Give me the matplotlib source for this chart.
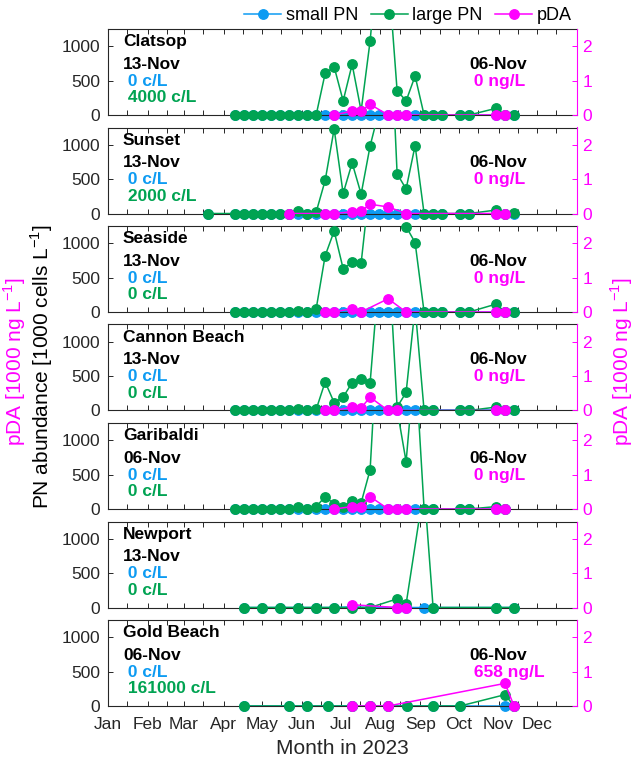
import numpy as np
import matplotlib
matplotlib.use('Agg')
import matplotlib.pyplot as plt
from matplotlib.lines import Line2D

plt.rcParams['font.family'] = ['Liberation Sans', 'DejaVu Sans']
plt.rcParams['mathtext.fontset'] = 'custom'
plt.rcParams['mathtext.rm'] = 'Liberation Sans'

BLUE = '#0D9BF2'
GREEN = '#00A352'
PINK = '#FF00FF'
DARK = '#262626'

# sampling days counted from 1 Jan 2023, PN in 1000 cells/L, pDA in ng/L
clatsop_days = [99, 106, 113, 120, 127, 134, 141, 148, 155, 162, 169, 176, 183, 190, 197,
                204, 211, 218, 225, 232, 239, 246, 253, 260, 274, 281, 302, 309, 316]
clatsop_small = [0, 0, 0, 0, 0, 0, 0, 0, 0, 0, 0, 0, 0, 0, 0,
                 0, 0, 0, 0, 0, 0, 0, 0, 0, 0, 0, 0, 0, 0]
clatsop_large = [0, 0, 0, 0, 0, 0, 0, 0, 0, 0, 605, 700, 205, 736, 60,
                 1078, 2500, 2100, 354, 205, 567, 0, 0, 0, 0, 0, 97, 0, 4]
clatsop_pda_days = [176, 190, 197, 204, 218, 225, 232, 302, 309]
clatsop_pda = [0, 115, 120, 310, 0, 0, 0, 0, 0]

sunset_days = [78, 99, 106, 113, 120, 127, 134, 141, 148, 155, 162, 169, 176, 183, 190,
               197, 204, 211, 218, 225, 232, 239, 246, 253, 260, 274, 281, 302, 309, 316]
sunset_small = [0, 0, 0, 0, 0, 0, 0, 0, 0, 0, 0, 0, 0, 0, 0,
                0, 0, 0, 0, 0, 0, 0, 0, 0, 0, 0, 0, 0, 0, 0]
sunset_large = [0, 0, 0, 0, 0, 0, 0, 0, 30, 0, 20, 480, 1230, 291, 736,
                282, 983, 1500, 3500, 578, 356, 988, 0, 0, 0, 0, 0, 50, 0, 2]
sunset_pda_days = [141, 169, 176, 190, 197, 204, 218, 232, 302, 309]
sunset_pda = [0, 0, 0, 50, 70, 270, 190, 0, 0, 0]

seaside_days = [99, 106, 113, 120, 127, 134, 141, 148, 155, 162, 169, 176, 183, 190, 197,
                204, 211, 218, 225, 232, 239, 246, 253, 260, 274, 281, 302, 309, 316]
seaside_small = [0, 0, 0, 0, 0, 0, 0, 0, 0, 0, 0, 0, 0, 0, 0,
                 0, 0, 0, 0, 0, 0, 0, 0, 0, 0, 0, 0, 0, 0]
seaside_large = [0, 0, 0, 0, 0, 0, 0, 15, 0, 45, 818, 1176, 630, 720, 712,
                 1900, 2800, 3000, 2000, 1240, 1010, 0, 0, 0, 0, 0, 115, 0, 0]
seaside_pda_days = [169, 176, 190, 197, 218, 232, 302, 309]
seaside_pda = [0, 0, 100, 0, 385, 0, 0, 0]

cannon_days = [99, 106, 113, 120, 127, 134, 141, 148, 155, 162, 169, 176, 183, 190,
               197, 204, 211, 218, 225, 232, 239, 246, 253, 274, 281, 302, 309, 316]
cannon_small = [0, 0, 0, 0, 0, 0, 0, 0, 0, 0, 0, 0, 0, 0,
                0, 0, 0, 0, 0, 0, 0, 0, 0, 0, 0, 0, 0, 0]
cannon_large = [0, 0, 0, 0, 0, 0, 0, 15, 0, 15, 415, 115, 195, 405,
                462, 405, 2000, 2400, 50, 262, 1500, 0, 0, 0, 0, 50, 0, 0]
cannon_pda_days = [169, 176, 190, 197, 204, 218, 225, 302, 309]
cannon_pda = [0, 0, 100, 80, 385, 0, 0, 0, 0]

garibaldi_days = [99, 106, 113, 120, 127, 134, 141, 148, 155, 162, 169, 176, 183, 190,
                  197, 204, 211, 218, 225, 232, 239, 246, 253, 274, 281, 302, 309]
garibaldi_small = [0, 0, 0, 0, 0, 0, 0, 0, 0, 0, 0, 0, 0, 0,
                   0, 0, 0, 0, 0, 0, 0, 0, 0, 0, 0, 0, 0]
garibaldi_large = [0, 0, 0, 0, 0, 0, 0, 35, 0, 35, 178, 75, 35, 120,
                   90, 570, 2900, 3000, 1450, 687, 2200, 0, 0, 0, 0, 35, 0]
garibaldi_pda_days = [176, 190, 197, 204, 218, 225, 232, 302, 309]
garibaldi_pda = [0, 70, 70, 360, 0, 0, 0, 0, 0]

newport_days = [106, 120, 134, 148, 162, 176, 190, 204, 225, 232, 246, 253, 302, 316]
newport_small = [0, 0, 0, 0, 0, 0, 10, 0, 0, 0, 0, 0, 0, 0]
newport_large = [0, 0, 0, 0, 0, 0, 0, 0, 125, 50, 1750, 0, 0, 0]
newport_pda_days = [190, 225, 232]
newport_pda = [80, 0, 0]

goldbeach_days = [106, 141, 155, 171, 190, 204, 218, 233, 253, 274, 309, 316]
goldbeach_small = [0, 0, 0, 0, 0, 0, 0, 0, 0, 0, 0, 0]
goldbeach_large = [0, 0, 0, 0, 0, 0, 0, 0, 0, 0, 165, 0]
goldbeach_pda_days = [190, 204, 218, 309, 316]
goldbeach_pda = [0, 0, 0, 658, 0]

stations = ['Clatsop', 'Sunset', 'Seaside', 'Cannon Beach', 'Garibaldi', 'Newport', 'Gold Beach']
pn_last_date = ['13-Nov', '13-Nov', '13-Nov', '13-Nov', '06-Nov', '13-Nov', '06-Nov']
small_last = [0, 0, 0, 0, 0, 0, 0]            # cells/L
large_last = [4000, 2000, 0, 0, 0, 0, 161000]  # cells/L
pda_last_date = ['06-Nov', '06-Nov', '06-Nov', '06-Nov', '06-Nov', None, '06-Nov']
pda_last = [0, 0, 0, 0, 0, None, 658]          # ng/L

month_labels = ['Jan', 'Feb', 'Mar', 'Apr', 'May', 'Jun',
                'Jul', 'Aug', 'Sep', 'Oct', 'Nov', 'Dec']

series = [
    (clatsop_days, clatsop_small, clatsop_large, clatsop_pda_days, clatsop_pda),
    (sunset_days, sunset_small, sunset_large, sunset_pda_days, sunset_pda),
    (seaside_days, seaside_small, seaside_large, seaside_pda_days, seaside_pda),
    (cannon_days, cannon_small, cannon_large, cannon_pda_days, cannon_pda),
    (garibaldi_days, garibaldi_small, garibaldi_large, garibaldi_pda_days, garibaldi_pda),
    (newport_days, newport_small, newport_large, newport_pda_days, newport_pda),
    (goldbeach_days, goldbeach_small, goldbeach_large, goldbeach_pda_days, goldbeach_pda),
]

t0 = np.datetime64('2023-01-01')
def to_dates(days):
    return t0 + np.array(days).astype('timedelta64[D]')

month_starts = np.arange(np.datetime64('2023-01'), np.datetime64('2024-01')).astype('datetime64[D]')
mid_months = month_starts + np.timedelta64(15, 'D')

PN_MAX = 1250
PDA_MAX = 2.5

def draw(ax, x, y, color, ymax, z):
    y = np.asarray(y, dtype=float)
    ax.plot(x, y, '-', color=color, lw=1.1, zorder=z)
    keep = y <= ymax
    ax.plot(x[keep], y[keep], 'o', color=color, ms=6.8, mec=color,
            clip_on=False, zorder=z)

W, H = 636, 759
fig = plt.figure(figsize=(W / 100, H / 100), dpi=100)

left_px, right_px = 108, 577
top_px, pitch_px, height_px = 29, 98.5, 86

for i, name in enumerate(stations):
    days, small, large, pda_days, pda = series[i]
    y_top = top_px + i * pitch_px
    ax = fig.add_axes([left_px / W, 1 - (y_top + height_px) / H,
                       (right_px - left_px) / W, height_px / H])
    ax2 = ax.twinx()

    x = to_dates(days)
    draw(ax, x, small, BLUE, PN_MAX, 2)
    draw(ax, x, large, GREEN, PN_MAX, 3)
    draw(ax2, to_dates(pda_days), np.array(pda) / 1000, PINK, PDA_MAX, 3)

    ax.set_xlim(np.datetime64('2023-01-01'), np.datetime64('2024-01-01'))
    ax.set_ylim(0, PN_MAX)
    ax2.set_ylim(0, PDA_MAX)
    ax.set_yticks([0, 500, 1000])
    ax2.set_yticks([0, 1, 2])
    ax.set_xticks(month_starts)
    ax.set_xticks(mid_months, minor=True)
    if i == len(stations) - 1:
        ax.set_xticklabels(month_labels)
        ax.set_xlabel('Month in 2023', fontsize=15, color=DARK, labelpad=5)
    else:
        ax.set_xticklabels([])

    ax.tick_params(axis='x', which='both', direction='in', top=True, bottom=True,
                   length=3.5, width=0.7, color=DARK, labelsize=12.5,
                   labelcolor=DARK, pad=8)
    ax.tick_params(axis='y', direction='in', left=True, right=False, length=3.5,
                   width=0.7, color=DARK, labelsize=12.5, labelcolor=DARK, pad=5.5)
    ax2.tick_params(axis='y', direction='in', right=True, length=3.5, width=0.7,
                    color=PINK, labelsize=12.5, labelcolor=PINK, pad=4)
    for s in ['left', 'top', 'bottom']:
        ax.spines[s].set_color(DARK)
        ax.spines[s].set_linewidth(0.8)
        ax2.spines[s].set_visible(False)
    ax.spines['right'].set_visible(False)
    ax2.spines['right'].set_color(PINK)
    ax2.spines['right'].set_linewidth(0.8)

    # station text
    kw = dict(transform=ax.transAxes, fontsize=12.5, fontweight='bold', va='center', ha='left')
    ax2.text(0.032, 0.85, name, color='black', **kw)
    ax2.text(0.032, 0.593, pn_last_date[i], color='black', **kw)
    ax2.text(0.032, 0.395, ' %d c/L' % small_last[i], color=BLUE, **kw)
    ax2.text(0.032, 0.198, ' %d c/L' % large_last[i], color=GREEN, **kw)
    if pda_last_date[i] is not None:
        ax2.text(0.77, 0.593, pda_last_date[i], color='black', **kw)
        ax2.text(0.77, 0.395, ' %d ng/L' % pda_last[i], color=PINK, **kw)

fig.text(42 / W, 1 - 367 / H, 'PN abundance [1000 cells L$^{-1}$]', rotation=90,
         fontsize=15, ha='center', va='center', color='black')
fig.text(15 / W, 1 - 362 / H, 'pDA [1000 ng L$^{-1}$]', rotation=90,
         fontsize=15, ha='center', va='center', color=PINK)
fig.text(622 / W, 1 - 362 / H, 'pDA [1000 ng L$^{-1}$]', rotation=90,
         fontsize=15, ha='center', va='center', color=PINK)

handles = [Line2D([], [], color=c, lw=1.1, marker='o', ms=6.8) for c in (BLUE, GREEN, PINK)]
fig.legend(handles, ['small PN', 'large PN', 'pDA'], loc='center',
           bbox_to_anchor=(408 / W, 1 - 16 / H), ncol=3, frameon=False, fontsize=13,
           handlelength=2.05, handletextpad=0.25, columnspacing=0.7, borderpad=0)

fig.savefig('out.png', dpi=100)
